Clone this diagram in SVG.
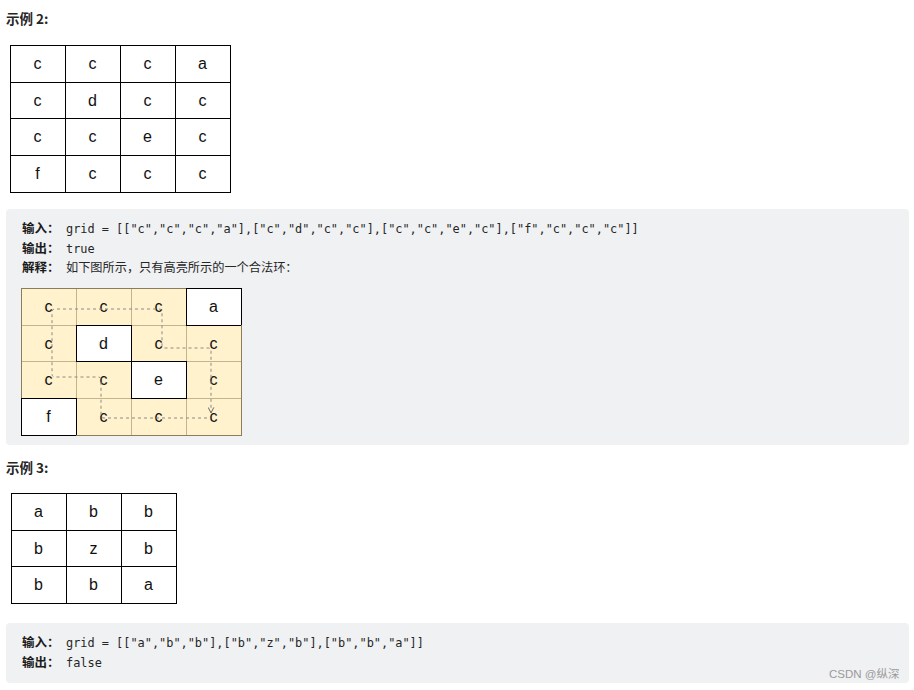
<svg xmlns="http://www.w3.org/2000/svg" width="914" height="690" viewBox="0 0 914 690">
<defs>
<style>
.title{font-family:"Noto Sans CJK SC","Liberation Sans",sans-serif;font-weight:bold;font-size:13.5px;fill:#262626}
.lbl{font-family:"Noto Sans CJK SC",sans-serif;font-weight:bold;font-size:12.5px;fill:#1a1a1a}
.code{font-family:"DejaVu Sans Mono","Liberation Mono",monospace;font-size:11.9px;fill:#262626}
.cjk{font-family:"Noto Sans CJK SC",sans-serif;font-size:12.2px;fill:#262626}
.cell{font-family:"Liberation Sans",Arial,sans-serif;font-size:16px;fill:#111;text-anchor:middle}
.w{fill:#fff;stroke:#000;stroke-width:1;shape-rendering:crispEdges}
.h{fill:#fff2cc;stroke:#c4b48c;stroke-width:1;shape-rendering:crispEdges}
.box{fill:#f0f1f3}
.loop{fill:none;stroke:#8a8a8a;stroke-width:1;stroke-dasharray:3,3}
.wm{font-family:"Liberation Sans","Noto Sans CJK SC",sans-serif;font-size:11.5px;fill:#9a9a9a}
</style>
<marker id="arr" viewBox="0 0 10 10" refX="9" refY="5" markerWidth="7" markerHeight="7" orient="auto" markerUnits="userSpaceOnUse">
<path d="M1,1 L9,5 L1,9" fill="none" stroke="#666" stroke-width="1.4"/>
</marker>
</defs>
<rect width="914" height="690" fill="#fff"/>

<text class="title" x="6" y="24">示例 2:</text>

<g id="grid1">
<rect class="w" x="10" y="45" width="55" height="37"/><rect class="w" x="65" y="45" width="55" height="37"/><rect class="w" x="120" y="45" width="55" height="37"/><rect class="w" x="175" y="45" width="55" height="37"/>
<rect class="w" x="10" y="82" width="55" height="36.5"/><rect class="w" x="65" y="82" width="55" height="36.5"/><rect class="w" x="120" y="82" width="55" height="36.5"/><rect class="w" x="175" y="82" width="55" height="36.5"/>
<rect class="w" x="10" y="118.5" width="55" height="37"/><rect class="w" x="65" y="118.5" width="55" height="37"/><rect class="w" x="120" y="118.5" width="55" height="37"/><rect class="w" x="175" y="118.5" width="55" height="37"/>
<rect class="w" x="10" y="155.5" width="55" height="36.5"/><rect class="w" x="65" y="155.5" width="55" height="36.5"/><rect class="w" x="120" y="155.5" width="55" height="36.5"/><rect class="w" x="175" y="155.5" width="55" height="36.5"/>
<text class="cell" x="37.5" y="69">c</text><text class="cell" x="92.5" y="69">c</text><text class="cell" x="147.5" y="69">c</text><text class="cell" x="202.5" y="69">a</text>
<text class="cell" x="37.5" y="105.5">c</text><text class="cell" x="92.5" y="105.5">d</text><text class="cell" x="147.5" y="105.5">c</text><text class="cell" x="202.5" y="105.5">c</text>
<text class="cell" x="37.5" y="142">c</text><text class="cell" x="92.5" y="142">c</text><text class="cell" x="147.5" y="142">e</text><text class="cell" x="202.5" y="142">c</text>
<text class="cell" x="37.5" y="179">f</text><text class="cell" x="92.5" y="179">c</text><text class="cell" x="147.5" y="179">c</text><text class="cell" x="202.5" y="179">c</text>
</g>

<g id="box1">
<rect class="box" x="6" y="209" width="903" height="236" rx="4"/>
<text class="lbl" x="22" y="233">输入：</text>
<text class="code" x="66" y="233">grid = [["c","c","c","a"],["c","d","c","c"],["c","c","e","c"],["f","c","c","c"]]</text>
<text class="lbl" x="22" y="252.5">输出：</text>
<text class="code" x="66" y="252.5">true</text>
<text class="lbl" x="22" y="272">解释：</text>
<text class="cjk" x="66" y="272">如下图所示，只有高亮所示的一个合法环：</text>
</g>

<g id="grid2">
<rect class="h" x="21" y="288" width="55" height="37"/><rect class="h" x="76" y="288" width="55" height="37"/><rect class="h" x="131" y="288" width="55" height="37"/>
<rect class="h" x="21" y="325" width="55" height="36"/><rect class="h" x="131" y="325" width="55" height="36"/><rect class="h" x="186" y="325" width="55" height="36"/>
<rect class="h" x="21" y="361" width="55" height="37"/><rect class="h" x="76" y="361" width="55" height="37"/><rect class="h" x="186" y="361" width="55" height="37"/>
<rect class="h" x="76" y="398" width="55" height="37"/><rect class="h" x="131" y="398" width="55" height="37"/><rect class="h" x="186" y="398" width="55" height="37"/>
<rect class="w" x="186" y="288" width="55" height="37"/>
<rect class="w" x="76" y="325" width="55" height="36"/>
<rect class="w" x="131" y="361" width="55" height="37"/>
<rect class="w" x="21" y="398" width="55" height="37"/>
<path d="M21,288 H186 M21,288 V398 M76,435 H241 V325" fill="none" stroke="#8a7c5c" stroke-width="1" shape-rendering="crispEdges"/>
<text class="cell" x="48.5" y="312">c</text><text class="cell" x="103.5" y="312">c</text><text class="cell" x="158.5" y="312">c</text><text class="cell" x="213.5" y="312">a</text>
<text class="cell" x="48.5" y="348.5">c</text><text class="cell" x="103.5" y="348.5">d</text><text class="cell" x="158.5" y="348.5">c</text><text class="cell" x="213.5" y="348.5">c</text>
<text class="cell" x="48.5" y="385">c</text><text class="cell" x="103.5" y="385">c</text><text class="cell" x="158.5" y="385">e</text><text class="cell" x="213.5" y="385">c</text>
<text class="cell" x="48.5" y="422">f</text><text class="cell" x="103.5" y="422">c</text><text class="cell" x="158.5" y="422">c</text><text class="cell" x="213.5" y="422">c</text>
</g>

<g id="connectors">
<path class="loop" marker-end="url(#arr)" d="M207,418 H104 Q101,418 101,415 V380 Q101,377 98,377 H55 Q52,377 52,374 V312 Q52,309 55,309 H159 Q162,309 162,312 V345 Q162,348 165,348 H208 Q211,348 211,351 V413"/>
</g>

<text class="title" x="6" y="473">示例 3:</text>

<g id="grid3">
<rect class="w" x="11" y="493" width="55" height="37"/><rect class="w" x="66" y="493" width="55" height="37"/><rect class="w" x="121" y="493" width="55" height="37"/>
<rect class="w" x="11" y="530" width="55" height="36.5"/><rect class="w" x="66" y="530" width="55" height="36.5"/><rect class="w" x="121" y="530" width="55" height="36.5"/>
<rect class="w" x="11" y="566.5" width="55" height="36.5"/><rect class="w" x="66" y="566.5" width="55" height="36.5"/><rect class="w" x="121" y="566.5" width="55" height="36.5"/>
<text class="cell" x="38.5" y="517">a</text><text class="cell" x="93.5" y="517">b</text><text class="cell" x="148.5" y="517">b</text>
<text class="cell" x="38.5" y="553.5">b</text><text class="cell" x="93.5" y="553.5">z</text><text class="cell" x="148.5" y="553.5">b</text>
<text class="cell" x="38.5" y="590">b</text><text class="cell" x="93.5" y="590">b</text><text class="cell" x="148.5" y="590">a</text>
</g>

<g id="box2">
<rect class="box" x="6" y="623" width="903" height="60" rx="4"/>
<text class="lbl" x="22" y="647">输入：</text>
<text class="code" x="66" y="647">grid = [["a","b","b"],["b","z","b"],["b","b","a"]]</text>
<text class="lbl" x="22" y="667">输出：</text>
<text class="code" x="66" y="667">false</text>
</g>

<text class="wm" x="829" y="678">CSDN @纵深</text>
</svg>
